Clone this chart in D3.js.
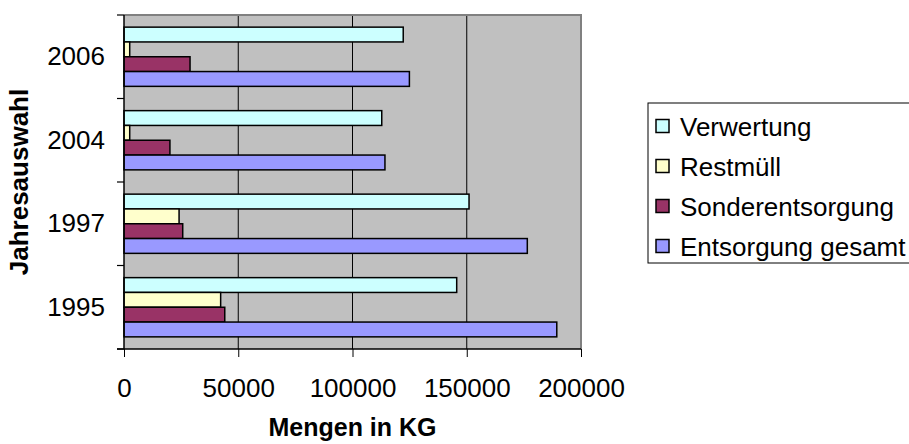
<!DOCTYPE html>
<html><head><meta charset="utf-8">
<script src="https://cdn.jsdelivr.net/npm/d3@7"></script>
<style>body{margin:0;background:#fff}svg{display:block}</style>
</head><body>
<svg id="c" width="909" height="444"></svg>
<script>
const years = ["2006", "2004", "1997", "1995"];
const seriesNames = ["Verwertung", "Restmüll", "Sonderentsorgung", "Entsorgung gesamt"];
const seriesColors = ["#CCFFFF", "#FFFFCC", "#993366", "#9999FF"];
const verwertung = [122200, 112800, 151000, 145600];
const restmuell = [2500, 2500, 24100, 42300];
const sonderentsorgung = [28900, 20100, 25700, 44100];
const entsorgungGesamt = [124900, 114200, 176500, 189400];
const xTicks = [0, 50000, 100000, 150000, 200000];

const seriesValues = [verwertung, restmuell, sonderentsorgung, entsorgungGesamt];
const font = "Liberation Sans, Arial, Helvetica, sans-serif";
const svg = d3.select("#c");
const L = 124, R = 581, T = 15, B = 349;

const x = d3.scaleLinear().domain([0, 200000]).range([L, R]);
const y = d3.scaleBand().domain(years).range([T, B]);
const ys = d3.scaleBand().domain(seriesNames).range([0, y.bandwidth()]).paddingOuter(0.82);

// plot background
svg.append("rect").attr("x", L).attr("y", T).attr("width", R - L).attr("height", B - T)
  .attr("fill", "#C0C0C0");
// gridlines
svg.append("g").selectAll("line").data(xTicks.slice(1, -1)).join("line")
  .attr("x1", d => x(d)).attr("x2", d => x(d)).attr("y1", T).attr("y2", B)
  .attr("stroke", "#000").attr("stroke-width", 1);
// top/right border
svg.append("path").attr("d", `M${L},${T}H${R}V${B}`).attr("fill", "none")
  .attr("stroke", "#808080").attr("stroke-width", 2);

// bars
const data = [];
years.forEach((yr, i) => seriesNames.forEach((s, j) => data.push({yr, s, j, v: seriesValues[j][i]})));
svg.append("g").selectAll("rect").data(data).join("rect")
  .attr("x", x(0)).attr("y", d => y(d.yr) + ys(d.s))
  .attr("width", d => x(d.v) - x(0)).attr("height", ys.bandwidth())
  .attr("fill", d => seriesColors[d.j]).attr("stroke", "#000").attr("stroke-width", 1.5);

// x axis
const xa = svg.append("g").attr("transform", `translate(0,${B})`)
  .call(d3.axisBottom(x).tickValues(xTicks).tickFormat(d3.format("d")).tickSize(8).tickPadding(22));
xa.select(".domain").attr("stroke", "#000").attr("stroke-width", 1.5).attr("d", `M${L - 7},0H${R}`);
xa.selectAll(".tick line").attr("stroke", "#000");
xa.selectAll("text").attr("font-family", font).attr("font-size", 26).attr("fill", "#000");

// y axis
const ya = svg.append("g").attr("transform", `translate(${L},0)`)
  .call(d3.axisLeft(y).tickSize(0).tickPadding(19));
ya.select(".domain").attr("stroke", "#000").attr("stroke-width", 1.5).attr("d", `M0,${T}V${B}`);
ya.selectAll("text").attr("font-family", font).attr("font-size", 26).attr("fill", "#000");
// boundary ticks
const bounds = years.map(d => y(d)).concat([B]);
svg.append("g").selectAll("line").data(bounds).join("line")
  .attr("x1", L - 7).attr("x2", L).attr("y1", d => d).attr("y2", d => d)
  .attr("stroke", "#000").attr("stroke-width", 1.2);

// axis titles
svg.append("text").attr("x", (L + R) / 2).attr("y", 436).attr("text-anchor", "middle")
  .attr("font-family", font).attr("font-weight", "bold").attr("font-size", 25).text("Mengen in KG");
svg.append("text").attr("transform", `translate(28,${(T + B) / 2}) rotate(-90)`).attr("text-anchor", "middle")
  .attr("font-family", font).attr("font-weight", "bold").attr("font-size", 26).text("Jahresauswahl");

// legend
const lg = svg.append("g");
lg.append("rect").attr("x", 648).attr("y", 103).attr("width", 270).attr("height", 160)
  .attr("fill", "#fff").attr("stroke", "#000").attr("stroke-width", 1);
const li = lg.selectAll("g.item").data(seriesNames).join("g").attr("class", "item")
  .attr("transform", (d, i) => `translate(0,${126 + i * 40})`);
li.append("rect").attr("x", 656).attr("y", -6.5).attr("width", 13).attr("height", 13)
  .attr("fill", (d, i) => seriesColors[i]).attr("stroke", "#000").attr("stroke-width", 1.5);
li.append("text").attr("x", 680).attr("y", 10).attr("font-family", font).attr("font-size", 26)
  .text(d => d);
</script>
</body></html>
